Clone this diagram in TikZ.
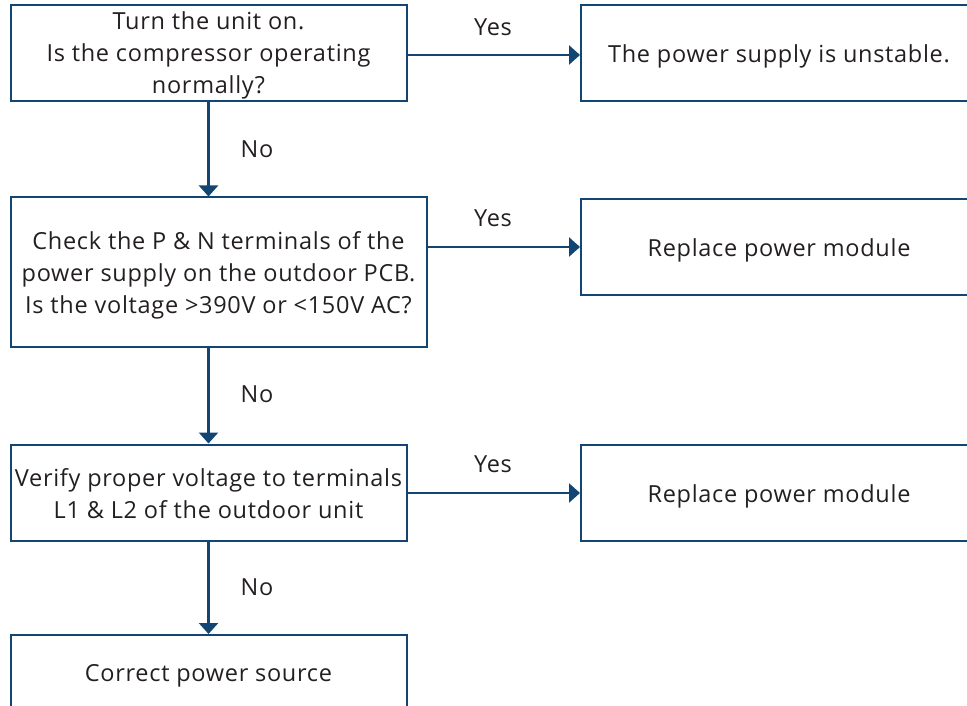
\documentclass[tikz,border=0pt]{standalone}
\usepackage{fontspec}
\setmainfont[LetterSpace=3]{Open Sans}
\usetikzlibrary{arrows.meta}
\definecolor{lineblue}{RGB}{18,69,115}
\definecolor{txt}{RGB}{35,31,32}
\begin{document}
\begin{tikzpicture}[x=1pt,y=-1pt,
  box/.style={draw=lineblue, line width=2pt, inner sep=0pt},
  boxtext/.style={text=txt, align=center, inner sep=0pt, yshift=-3.5pt,
    font=\fontsize{23.5}{32.3}\selectfont},
  conn/.style={draw=lineblue, line width=2.5pt, -{Triangle[length=11pt,width=19pt]}},
  lbl/.style={text=txt, inner sep=0pt, font=\fontsize{23.5}{28}\selectfont}]
\useasboundingbox (0,0) rectangle (967,706);
\clip (0,0) rectangle (967,706);
\node[box, minimum width=396pt, minimum height=96pt,
  label={[boxtext, yshift=1pt]center:{Turn the unit on.\\Is the compressor operating\\normally?}}] (b1) at (208.5,53) {};
\node[box, minimum width=396pt, minimum height=96pt,
  label={[boxtext]center:{The power supply is unstable.}}] (b2) at (779,53) {};
\node[box, minimum width=416pt, minimum height=149pt,
  label={[boxtext]center:{Check the P \& N terminals of the\\power supply on the outdoor PCB.\\Is the voltage >390V or <150V AC?}}] (b3) at (218.5,272) {};
\node[box, minimum width=396pt, minimum height=96pt,
  label={[boxtext]center:{Replace power module}}] (b4) at (779,247) {};
\node[box, minimum width=396pt, minimum height=96pt,
  label={[boxtext, yshift=2.5pt]center:{Verify proper voltage to terminals\\L1 \& L2 of the outdoor unit}}] (b5) at (208.5,492.5) {};
\node[box, minimum width=396pt, minimum height=96pt,
  label={[boxtext]center:{Replace power module}}] (b6) at (779,493) {};
\node[box, minimum width=396pt, minimum height=74pt,
  label={[boxtext]center:{Correct power source}}] (b7) at (208.5,672) {};
\draw[conn] ([yshift=-2pt]b1.east) -- ([yshift=-2pt]b2.west);
\draw[conn] (b3.east |- b4.west) -- (b4.west);
\draw[conn] (b5.east |- b6.west) -- (b6.west);
\draw[conn] (b1.south) -- (b1.south |- b3.north);
\draw[conn] (b5.north |- b3.south) -- (b5.north);
\draw[conn] (b5.south) -- (b7.north);
\node[lbl] (y1) at (493,27) {Yes};
\node[lbl] (y2) at (493,218) {Yes};
\node[lbl] (y3) at (493,464) {Yes};
\node[lbl] (n1) at (257,149) {No};
\node[lbl] (n2) at (257,394) {No};
\node[lbl] (n3) at (257,587) {No};
\end{tikzpicture}
\end{document}
